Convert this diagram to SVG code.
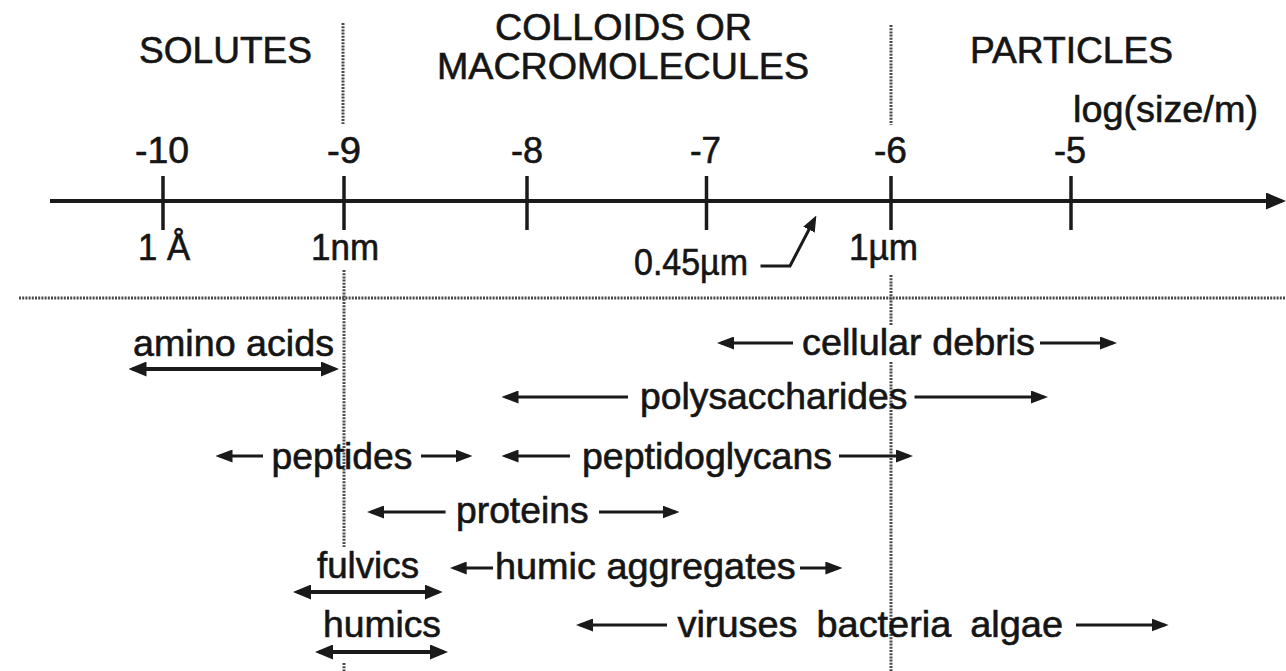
<svg xmlns="http://www.w3.org/2000/svg" width="1286" height="671" viewBox="0 0 1286 671">
<style>
text{font-family:"Liberation Sans",Arial,sans-serif;fill:#151515;stroke:#151515;stroke-width:0.6}
.hd{font-size:36px}
.tk{font-size:36px}
.lb{font-size:36px}
.ax{stroke:#1a1a1a;stroke-width:4;fill:none}
.tick{stroke:#1a1a1a;stroke-width:3.5}
.dot{stroke:#4a4a4a;stroke-width:3;stroke-dasharray:2 1.2;fill:none}
.arE{stroke:#1a1a1a;stroke-width:3.2;fill:none;marker-end:url(#ah)}
.arB{stroke:#1a1a1a;stroke-width:4;fill:none;marker-start:url(#ahb);marker-end:url(#ahb)}
</style>
<defs>
<marker id="ah" markerUnits="userSpaceOnUse" markerWidth="17" markerHeight="13" refX="13" refY="6.5" orient="auto-start-reverse"><path d="M0,0 L17,6.5 L0,13 z" fill="#1a1a1a"/></marker>
<marker id="ahb" markerUnits="userSpaceOnUse" markerWidth="18" markerHeight="15" refX="14" refY="7.5" orient="auto-start-reverse"><path d="M0,0 L18,7.5 L0,15 z" fill="#1a1a1a"/></marker>
<marker id="aax" markerUnits="userSpaceOnUse" markerWidth="20" markerHeight="17" refX="16" refY="8.5" orient="auto"><path d="M0,0 L20,8.5 L0,17 z" fill="#1a1a1a"/></marker>
<marker id="ap" markerUnits="userSpaceOnUse" markerWidth="16" markerHeight="13" refX="12" refY="6.5" orient="auto"><path d="M0,0 L16,6.5 L0,13 z" fill="#1a1a1a"/></marker>
</defs>
<rect width="1286" height="671" fill="#fff"/>

<g id="dividers">
<line class="dot" x1="19" y1="298" x2="1286" y2="298"/>
<line class="dot" x1="343" y1="23" x2="343" y2="124"/>
<line class="dot" x1="344" y1="270" x2="344" y2="547"/>
<line class="dot" x1="344" y1="663" x2="344" y2="671"/>
<line class="dot" x1="891" y1="25" x2="891" y2="125"/>
<line class="dot" x1="891" y1="275" x2="891" y2="325"/>
<line class="dot" x1="891" y1="362" x2="891" y2="671"/>
</g>

<g id="axis">
<line x1="50" y1="201" x2="1282" y2="201" class="ax" marker-end="url(#aax)"/>
<line class="tick" x1="163" y1="176" x2="163" y2="230"/>
<line class="tick" x1="344" y1="176" x2="344" y2="230"/>
<line class="tick" x1="527" y1="176" x2="527" y2="230"/>
<line class="tick" x1="706.5" y1="176" x2="706.5" y2="230"/>
<line class="tick" x1="891" y1="176" x2="891" y2="230"/>
<line class="tick" x1="1071" y1="176" x2="1071" y2="230"/>
</g>

<g id="headers">
<text class="hd" x="139" y="63" textLength="173" lengthAdjust="spacingAndGlyphs">SOLUTES</text>
<text class="hd" x="495" y="40" textLength="257" lengthAdjust="spacingAndGlyphs">COLLOIDS OR</text>
<text class="hd" x="437" y="79" textLength="372" lengthAdjust="spacingAndGlyphs">MACROMOLECULES</text>
<text class="hd" x="970" y="63" textLength="203" lengthAdjust="spacingAndGlyphs">PARTICLES</text>
<text class="hd" x="1073" y="122" textLength="185" lengthAdjust="spacingAndGlyphs">log(size/m)</text>
</g>

<g id="tick-labels">
<text class="tk" x="135" y="163" textLength="54" lengthAdjust="spacingAndGlyphs">-10</text>
<text class="tk" x="327" y="163" textLength="34" lengthAdjust="spacingAndGlyphs">-9</text>
<text class="tk" x="511" y="163" textLength="32" lengthAdjust="spacingAndGlyphs">-8</text>
<text class="tk" x="690" y="163" textLength="31" lengthAdjust="spacingAndGlyphs">-7</text>
<text class="tk" x="874" y="163" textLength="33" lengthAdjust="spacingAndGlyphs">-6</text>
<text class="tk" x="1054" y="163" textLength="32" lengthAdjust="spacingAndGlyphs">-5</text>
<text class="tk" x="138" y="260" textLength="52" lengthAdjust="spacingAndGlyphs">1 Å</text>
<text class="tk" x="311" y="260" textLength="68" lengthAdjust="spacingAndGlyphs">1nm</text>
<text class="tk" x="849" y="260" textLength="69" lengthAdjust="spacingAndGlyphs">1µm</text>
<text class="tk" x="634" y="275" textLength="114" lengthAdjust="spacingAndGlyphs">0.45µm</text>
</g>

<g id="connectors">
<polyline points="760.5,266 790,266 814.5,219" stroke="#1a1a1a" stroke-width="3" fill="none" marker-end="url(#ap)"/>
<line class="arB" x1="132.5" y1="369" x2="335" y2="369"/>
<line class="arE" x1="793" y1="343" x2="721" y2="343"/>
<line class="arE" x1="1040" y1="343" x2="1113" y2="343"/>
<line class="arE" x1="628" y1="397" x2="505.5" y2="397"/>
<line class="arE" x1="914.5" y1="397" x2="1044" y2="397"/>
<line class="arE" x1="263" y1="456" x2="219.5" y2="456"/>
<line class="arE" x1="421" y1="456" x2="468.5" y2="456"/>
<line class="arE" x1="570" y1="456" x2="505.5" y2="456"/>
<line class="arE" x1="839" y1="456" x2="909" y2="456"/>
<line class="arE" x1="445.6" y1="512" x2="371" y2="512"/>
<line class="arE" x1="599" y1="512" x2="675.5" y2="512"/>
<line class="arB" x1="297" y1="592" x2="438.7" y2="592"/>
<line class="arE" x1="493" y1="568" x2="453.7" y2="568"/>
<line class="arE" x1="800" y1="568" x2="838.4" y2="568"/>
<line class="arB" x1="319" y1="652" x2="444" y2="652"/>
<line class="arE" x1="667" y1="625" x2="580" y2="625"/>
<line class="arE" x1="1076" y1="625" x2="1164.6" y2="625"/>
</g>

<g id="amino-acids"><text class="lb" x="133" y="356" textLength="201" lengthAdjust="spacingAndGlyphs">amino acids</text></g>
<g id="cellular-debris"><text class="lb" x="802" y="355" textLength="233" lengthAdjust="spacingAndGlyphs">cellular debris</text></g>
<g id="polysaccharides"><text class="lb" x="640" y="409" textLength="267.5" lengthAdjust="spacingAndGlyphs">polysaccharides</text></g>
<g id="peptides"><text class="lb" x="271.5" y="469" textLength="141" lengthAdjust="spacingAndGlyphs">peptides</text></g>
<g id="peptidoglycans"><text class="lb" x="582" y="469" textLength="250" lengthAdjust="spacingAndGlyphs">peptidoglycans</text></g>
<g id="proteins"><text class="lb" x="456" y="523" textLength="132.6" lengthAdjust="spacingAndGlyphs">proteins</text></g>
<g id="fulvics"><text class="lb" x="317" y="578" textLength="102" lengthAdjust="spacingAndGlyphs">fulvics</text></g>
<g id="humic-aggregates"><text class="lb" x="495" y="579" textLength="300.6" lengthAdjust="spacingAndGlyphs">humic aggregates</text></g>
<g id="humics"><text class="lb" x="323" y="637" textLength="118" lengthAdjust="spacingAndGlyphs">humics</text></g>
<g id="viruses-bacteria-algae"><text class="lb" x="677.5" y="637" textLength="385.5" lengthAdjust="spacingAndGlyphs" word-spacing="8">viruses bacteria algae</text></g>
</svg>
